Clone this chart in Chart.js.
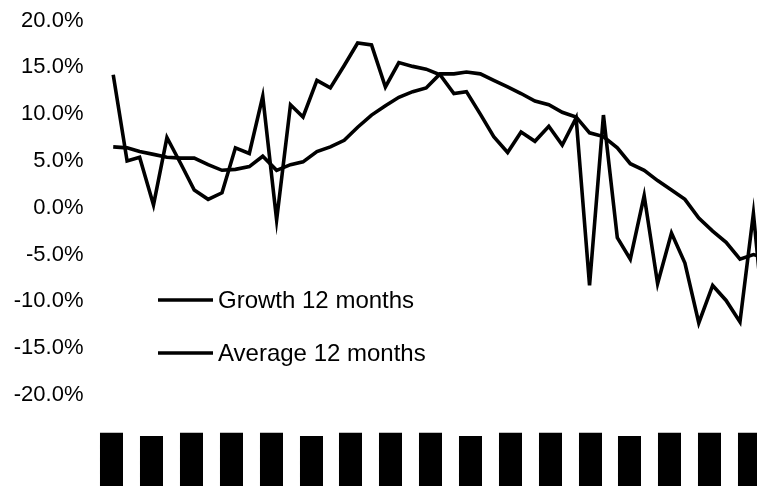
<!DOCTYPE html>
<html>
<head>
<meta charset="utf-8">
<script src="https://cdn.jsdelivr.net/npm/chart.js@4.4.1/dist/chart.umd.min.js"></script>
<style>
  html, body { margin: 0; padding: 0; background: #fff; width: 757px; height: 486px; overflow: hidden; }
  #wrap { position: relative; width: 774px; height: 520px; }
</style>
</head>
<body>
<div id="wrap"><canvas id="chart"></canvas></div>
<script>
// Monthly series, in percent
const growth12 = [
  14.2, 5.0, 5.4, 0.3, 7.5, 4.7, 1.9, 0.9, 1.6, 6.4, 5.8, 11.9,
  -1.3, 11.0, 9.7, 13.6, 12.8, 15.2, 17.6, 17.4, 12.9, 15.5, 15.1, 14.8,
  14.2, 12.2, 12.4, 10.0, 7.6, 5.9, 8.1, 7.1, 8.7, 6.7, 9.6, -8.3,
  9.9, -3.2, -5.5, 1.3, -8.1, -2.7, -5.9, -12.3, -8.3, -9.9, -12.2, -0.6,
  -16.0
];
const average12 = [
  6.5, 6.4, 6.0, 5.7, 5.4, 5.3, 5.3, 4.6, 4.0, 4.1, 4.4, 5.5,
  4.0, 4.6, 4.9, 6.0, 6.5, 7.2, 8.6, 9.9, 10.9, 11.8, 12.4, 12.8,
  14.3, 14.3, 14.5, 14.3, 13.6, 12.9, 12.2, 11.4, 11.0, 10.2, 9.7, 8.0,
  7.6, 6.4, 4.7, 4.0, 2.9, 1.9, 0.9, -1.1, -2.5, -3.7, -5.5, -5.0,
  -5.4
];
const seriesNames = ['Growth 12 months', 'Average 12 months'];

// Date-axis labels (blacked out), one every tickStepDays
const tickLabels = [
  '██████', '██████\u2009', '██████', '██████', '██████', '██████\u2009',
  '██████', '██████', '██████', '██████\u2009', '██████', '██████',
  '██████', '██████\u2009', '██████', '██████', '██████'
];
const tickStepDays = 89;
const yTickValues = [-20, -15, -10, -5, 0, 5, 10, 15, 20];

// x position of each month: days since the first month
const dayMs = 864e5;
const monthDays = growth12.map((_, i) => (Date.UTC(2005, i, 1) - Date.UTC(2005, 0, 1)) / dayMs);
const toPoints = vals => vals.map((v, i) => ({ x: monthDays[i], y: v }));

const inlineLegend = {
  id: 'inlineLegend',
  afterDatasetsDraw(chart, args, o) {
    const ctx = chart.ctx;
    ctx.save();
    ctx.font = o.font;
    ctx.textBaseline = 'middle';
    ctx.textAlign = 'left';
    chart.data.datasets.forEach((ds, k) => {
      const y = o.top + k * o.rowGap;
      ctx.strokeStyle = ds.borderColor;
      ctx.lineWidth = o.lineWidth;
      ctx.beginPath();
      ctx.moveTo(o.left, y);
      ctx.lineTo(o.left + o.lineLength, y);
      ctx.stroke();
      ctx.fillStyle = o.color;
      ctx.fillText(ds.label, o.left + o.lineLength + o.gap, y + 1);
    });
    ctx.restore();
  }
};

new Chart(document.getElementById('chart'), {
  type: 'line',
  data: {
    datasets: [
      { label: seriesNames[0], data: toPoints(growth12), borderColor: '#000', borderWidth: 3.6,
        pointRadius: 0, tension: 0, fill: false, borderJoinStyle: 'miter' },
      { label: seriesNames[1], data: toPoints(average12), borderColor: '#000', borderWidth: 3.6,
        pointRadius: 0, tension: 0, fill: false, borderJoinStyle: 'miter' }
    ]
  },
  options: {
    responsive: true,
    maintainAspectRatio: false,
    animation: false,
    devicePixelRatio: 1,
    layout: { padding: { top: 20.5, left: 0, right: 0, bottom: 0 } },
    plugins: {
      legend: { display: false },
      tooltip: { enabled: false },
      inlineLegend: {
        left: 158, top: 300, rowGap: 53, lineLength: 55, gap: 5, lineWidth: 3.4,
        font: '24px "Liberation Sans", Arial, sans-serif', color: '#000'
      }
    },
    scales: {
      x: {
        type: 'linear',
        min: -15,
        max: monthDays[monthDays.length - 1] + 15,
        grid: { display: false, drawTicks: false },
        border: { display: false },
        afterFit(scale) {
          scale.height = 125;
          scale.paddingLeft = 0;
          scale.paddingRight = 0;
        },
        afterBuildTicks(scale) {
          scale.ticks = tickLabels.map((_, k) => ({ value: k * tickStepDays }));
        },
        ticks: {
          autoSkip: false,
          minRotation: 90,
          maxRotation: 90,
          padding: 40,
          color: '#000',
          textStrokeColor: '#000',
          textStrokeWidth: 4,
          font: { family: 'DejaVu Sans', size: 16 },
          callback: (v, idx) => tickLabels[idx]
        }
      },
      y: {
        min: -20,
        max: 20,
        grid: { display: false, drawTicks: false },
        border: { display: false },
        afterFit(scale) {
          scale.width = 106.5;
          scale.paddingTop = 0;
          scale.paddingBottom = 0;
        },
        afterBuildTicks(scale) {
          scale.ticks = yTickValues.map(v => ({ value: v }));
        },
        ticks: {
          padding: 23,
          color: '#000',
          font: { family: 'Liberation Sans', size: 22 },
          callback: v => v.toFixed(1) + '%'
        }
      }
    }
  },
  plugins: [inlineLegend]
});
</script>
</body>
</html>
